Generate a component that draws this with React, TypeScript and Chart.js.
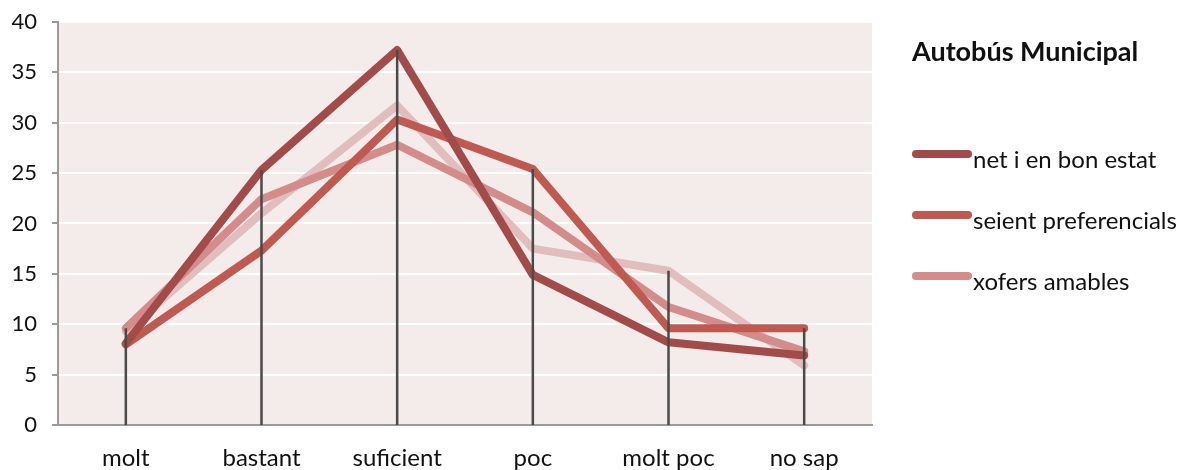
import React, { useEffect, useRef } from "react";
import { Chart, registerables } from "chart.js";

Chart.register(...registerables);

const categories = ["molt", "bastant", "suficient", "poc", "molt poc", "no sap"];
const netIEnBonEstat = [8.1, 25.3, 37.2, 14.9, 8.2, 6.9];
const seientPreferencials = [8.0, 17.3, 30.3, 25.4, 9.6, 9.6];
const xofersAmables = [9.6, 22.4, 27.8, 21.1, 11.7, 7.3];
const quartaSerie = [9.3, 21.0, 31.7, 17.5, 15.3, 5.9];
const yTicks = [0, 5, 10, 15, 20, 25, 30, 35, 40];

const legendTitle = "Autobús Municipal";
const seriesNames = ["net i en bon estat", "seient preferencials", "xofers amables", ""];
const seriesColors = ["#A34B48", "#C05A51", "#D48C8A", "#E2BDBD"];
const seriesData = [netIEnBonEstat, seientPreferencials, xofersAmables, quartaSerie];

const FONT = "Lato, 'Open Sans', sans-serif";

const bgPlugin = {
  id: "plotBg",
  beforeDraw(chart: any) {
    const { ctx, chartArea } = chart;
    ctx.save();
    ctx.fillStyle = "#F4ECEB";
    ctx.fillRect(chartArea.left, chartArea.top, chartArea.right - chartArea.left, chartArea.bottom - chartArea.top);
    ctx.restore();
  },
};

const dropLinePlugin = {
  id: "dropLines",
  afterDatasetsDraw(chart: any) {
    const { ctx, scales } = chart;
    const x = scales.x;
    const y = scales.y;
    ctx.save();
    ctx.strokeStyle = "#4A4A4A";
    ctx.lineWidth = 2.5;
    categories.forEach((_, i) => {
      const max = Math.max(...seriesData.map((s) => s[i]));
      const px = x.getPixelForValue(i);
      ctx.beginPath();
      ctx.moveTo(px, y.getPixelForValue(0));
      ctx.lineTo(px, y.getPixelForValue(max));
      ctx.stroke();
    });
    ctx.restore();
  },
};

export default function App() {
  const ref = useRef<HTMLCanvasElement | null>(null);

  useEffect(() => {
    document.body.style.margin = "0";
    if (!ref.current) return;
    const chart = new Chart(ref.current, {
      type: "line",
      data: {
        labels: categories,
        datasets: seriesData.map((d, i) => ({
          label: seriesNames[i],
          data: d,
          borderColor: seriesColors[i],
          backgroundColor: seriesColors[i],
          borderWidth: 8,
          pointRadius: 0,
          borderCapStyle: "round",
          borderJoinStyle: "round",
          tension: 0,
          order: i,
        })) as any,
      },
      options: {
        responsive: false,
        animation: false,
        layout: { padding: { left: 0, right: 320, top: 0, bottom: 0 } },
        plugins: { legend: { display: false }, tooltip: { enabled: false } },
        scales: {
          x: {
            offset: true,
            afterFit(scale: any) {
              scale.height = 45;
            },
            grid: { display: false, drawTicks: false },
            border: { display: true, color: "#9A9A9A", width: 2 },
            ticks: { color: "#111", font: { family: FONT, size: 24, lineHeight: 1 }, padding: 21 },
          },
          y: {
            min: 0,
            max: 40,
            afterFit(scale: any) {
              scale.width = 58;
            },
            afterBuildTicks(axis: any) {
              axis.ticks = yTicks.map((v) => ({ value: v }));
            },
            grid: {
              color: (c: any) => (c.tick && c.tick.value === 0 ? "rgba(0,0,0,0)" : "#FFFFFF"),
              lineWidth: 2,
              drawTicks: true,
              tickLength: 6,
              tickColor: "#9A9A9A",
            },
            border: { display: true, color: "#9A9A9A", width: 2 },
            ticks: { color: "#111", font: { family: FONT, size: 22, lineHeight: 0.62 }, padding: 15 },
          },
        },
      },
      plugins: [bgPlugin, dropLinePlugin],
    });
    return () => chart.destroy();
  }, []);

  return (
    <div style={{ position: "relative", width: 1192, height: 470, background: "#fff" }}>
      <canvas ref={ref} width={1192} height={470} style={{ display: "block" }} />
      <div
        style={{
          position: "absolute",
          left: 912,
          top: 37,
          fontFamily: FONT,
          fontWeight: 700,
          fontSize: 27,
          lineHeight: "27px",
          color: "#111",
          whiteSpace: "nowrap",
        }}
      >
        {legendTitle}
      </div>
      {seriesNames.slice(0, 3).map((name, i) => (
        <React.Fragment key={name}>
          <span
            style={{
              position: "absolute",
              left: 912,
              top: 150 + i * 61,
              width: 60,
              height: 8,
              borderRadius: 4,
              background: seriesColors[i],
            }}
          />
          <div
            style={{
              position: "absolute",
              left: 973,
              top: 147 + i * 61,
              fontFamily: FONT,
              fontSize: 24,
              lineHeight: "24px",
              color: "#111",
              whiteSpace: "nowrap",
            }}
          >
            {name}
          </div>
        </React.Fragment>
      ))}
    </div>
  );
}
